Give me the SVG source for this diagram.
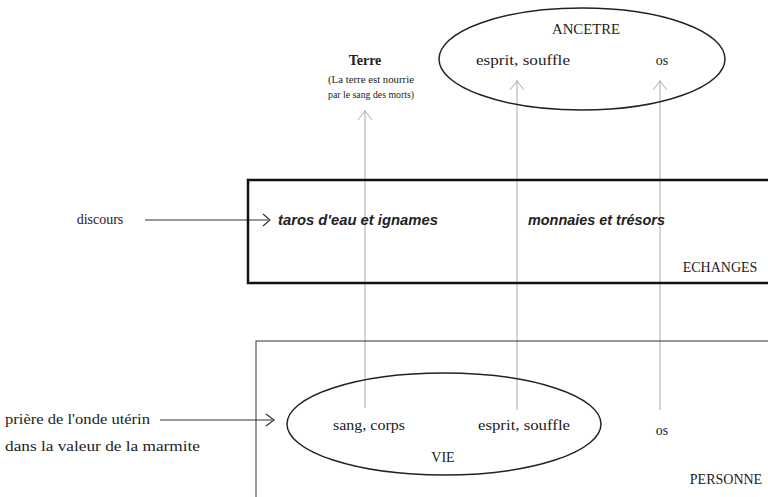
<svg xmlns="http://www.w3.org/2000/svg" width="768" height="497" viewBox="0 0 768 497">
<style>
text{font-family:"Liberation Serif","DejaVu Serif",serif;fill:#222;font-size:14px}
.c{text-anchor:middle}
.s{font-size:10.5px}
.bi{font-weight:bold;font-style:italic;font-family:"Liberation Sans","DejaVu Sans",sans-serif;font-size:14.5px}
.g{stroke:#aaa;stroke-width:1;fill:none}
.k{stroke:#333;stroke-width:1.2;fill:none}
</style>
<g id="connectors">
<line class="g" x1="365" y1="408" x2="365" y2="110"/>
<path class="g" d="M358,120 L365,111 L372,120"/>
<line class="g" x1="517" y1="410" x2="517" y2="80"/>
<path class="g" d="M510,90 L517,81 L524,90"/>
<line class="g" x1="660" y1="410" x2="660" y2="80"/>
<path class="g" d="M653,90 L660,81 L667,90"/>
<line class="k" x1="145" y1="220" x2="268" y2="220"/>
<path class="k" d="M263,214 L270,220 L263,226"/>
<line class="k" x1="160" y1="420" x2="272" y2="420"/>
<path class="k" d="M266,414 L274,420 L266,426"/>
</g>
<g id="ancetre">
<ellipse cx="582" cy="59" rx="143" ry="51" fill="none" stroke="#222" stroke-width="1.5"/>
<text class="c" x="586" y="34" textLength="68" lengthAdjust="spacingAndGlyphs">ANCETRE</text>
<text class="c" x="523" y="65" textLength="94" lengthAdjust="spacingAndGlyphs">esprit, souffle</text>
<text class="c" x="662" y="65">os</text>
</g>
<g id="terre">
<text class="c" x="365" y="65" font-weight="bold" font-size="16">Terre</text>
<text class="c s" x="371" y="83" textLength="86" lengthAdjust="spacingAndGlyphs">(La terre est nourrie</text>
<text class="c s" x="371" y="98" textLength="86" lengthAdjust="spacingAndGlyphs">par le sang des morts)</text>
</g>
<g id="echanges">
<rect x="248" y="180" width="530" height="103" fill="none" stroke="#111" stroke-width="2.5"/>
<text class="bi" x="278" y="225" textLength="160" lengthAdjust="spacingAndGlyphs">taros d'eau et ignames</text>
<text class="bi" x="528" y="225" textLength="137" lengthAdjust="spacingAndGlyphs">monnaies et trésors</text>
<text class="c" x="720" y="272" font-size="12">ECHANGES</text>
</g>
<g id="discours">
<text class="c" x="100" y="224" font-size="13.5">discours</text>
</g>
<g id="personne">
<rect x="256" y="341" width="530" height="170" fill="none" stroke="#333" stroke-width="1"/>
<text class="c" x="662" y="435" font-size="12">os</text>
<text class="c" x="726" y="484" font-size="12">PERSONNE</text>
</g>
<g id="vie">
<ellipse cx="444" cy="424" rx="157" ry="51" fill="none" stroke="#222" stroke-width="1.5"/>
<text class="c" x="369" y="430" textLength="72" lengthAdjust="spacingAndGlyphs">sang, corps</text>
<text class="c" x="524" y="430" textLength="92" lengthAdjust="spacingAndGlyphs">esprit, souffle</text>
<text class="c" x="443" y="462" font-size="12">VIE</text>
</g>
<g id="priere">
<text x="5" y="424" textLength="145" lengthAdjust="spacingAndGlyphs">prière de l'onde utérin</text>
<text x="5" y="451" textLength="195" lengthAdjust="spacingAndGlyphs">dans la valeur de la marmite</text>
</g>
</svg>
